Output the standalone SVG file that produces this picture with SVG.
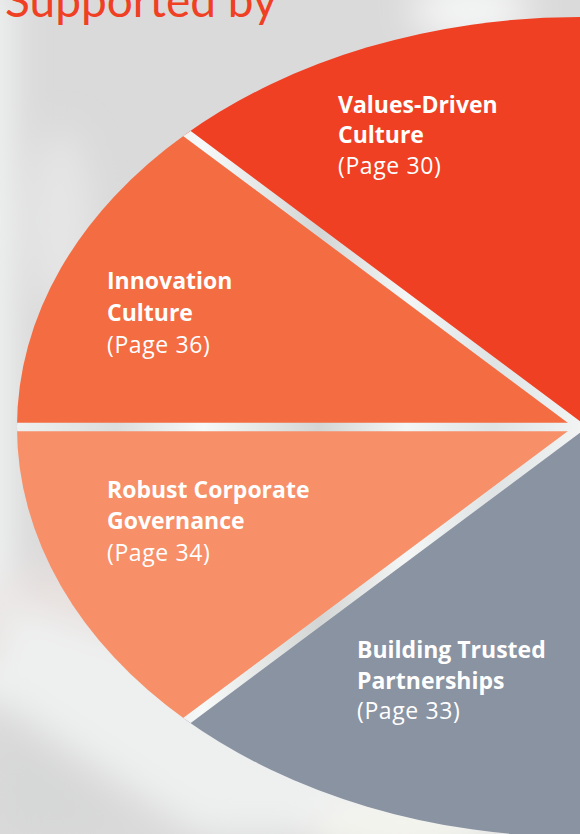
<svg xmlns="http://www.w3.org/2000/svg" width="580" height="834" viewBox="0 0 580 834">
<defs>
<style>
.title{font-family:"Open Sans","Liberation Sans",sans-serif;font-weight:bold;font-size:23px;fill:#ffffff}
.page{font-family:"Open Sans","Liberation Sans",sans-serif;font-weight:normal;font-size:23px;letter-spacing:0.6px;fill:#ffffff}
.heading{font-family:Lato,"Open Sans","Liberation Sans",sans-serif;font-size:46px;fill:#f04024}
.sep{stroke:url(#metal);stroke-width:8.5;fill:none}
</style>
<filter id="blur" x="-50%" y="-50%" width="200%" height="200%"><feGaussianBlur stdDeviation="18"/></filter>
<linearGradient id="metal" x1="0" y1="0" x2="580" y2="0" gradientUnits="userSpaceOnUse">
<stop offset="0" stop-color="#f2f4f4"/>
<stop offset="0.2" stop-color="#dcdede"/>
<stop offset="0.35" stop-color="#f7f9f9"/>
<stop offset="0.55" stop-color="#d4d6d6"/>
<stop offset="0.7" stop-color="#f4f6f6"/>
<stop offset="0.85" stop-color="#dfe3e3"/>
<stop offset="1" stop-color="#f2f4f4"/>
</linearGradient>
<clipPath id="pieClip"><ellipse cx="580" cy="427" rx="563" ry="410"/></clipPath>
</defs>

<g id="background">
<rect x="0" y="0" width="580" height="834" fill="#dbdada"/>
<g filter="url(#blur)">
<rect x="-30" y="-20" width="40" height="720" fill="#f2f4f4"/>
<ellipse cx="470" cy="10" rx="60" ry="30" fill="#f4f5f5"/>
<ellipse cx="60" cy="220" rx="30" ry="90" fill="#e6e6e6"/>
<ellipse cx="60" cy="630" rx="90" ry="60" fill="#e8e1df"/>
<polygon points="0,600 300,700 580,834 200,834 0,700" fill="#eef0f0"/>
<polygon points="0,720 140,834 0,834" fill="#d6d7d7"/>
<ellipse cx="400" cy="830" rx="90" ry="30" fill="#f4f4ee"/>
</g>
</g>

<text class="heading" x="5" y="17">Supported by</text>

<g id="values-driven-culture">
<path d="M580,427 L186,134 A563,410 0 0 1 580,17 Z" fill="#f04024"/>
<text class="title" x="338" y="113">Values-Driven</text>
<text class="title" x="338" y="143">Culture</text>
<text class="page" x="338" y="174">(Page 30)</text>
</g>

<g id="innovation-culture">
<path d="M580,427 L17,427 A563,410 0 0 1 186,134 Z" fill="#f36c42"/>
<text class="title" x="107" y="289">Innovation</text>
<text class="title" x="107" y="321">Culture</text>
<text class="page" x="107" y="353">(Page 36)</text>
</g>

<g id="robust-corporate-governance">
<path d="M580,427 L186,720 A563,410 0 0 1 17,427 Z" fill="#f78f68"/>
<text class="title" x="107" y="498">Robust Corporate</text>
<text class="title" x="107" y="529">Governance</text>
<text class="page" x="107" y="561">(Page 34)</text>
</g>

<g id="building-trusted-partnerships">
<path d="M580,427 L580,837 A563,410 0 0 1 186,720 Z" fill="#8a93a2"/>
<text class="title" x="357" y="658">Building Trusted</text>
<text class="title" x="357" y="689">Partnerships</text>
<text class="page" x="357" y="719">(Page 33)</text>
</g>

<g id="connectors" clip-path="url(#pieClip)">
<line class="sep" x1="582" y1="428" x2="150" y2="106"/>
<line class="sep" x1="582" y1="427" x2="0" y2="427"/>
<line class="sep" x1="582" y1="426" x2="150" y2="748"/>
</g>
</svg>
